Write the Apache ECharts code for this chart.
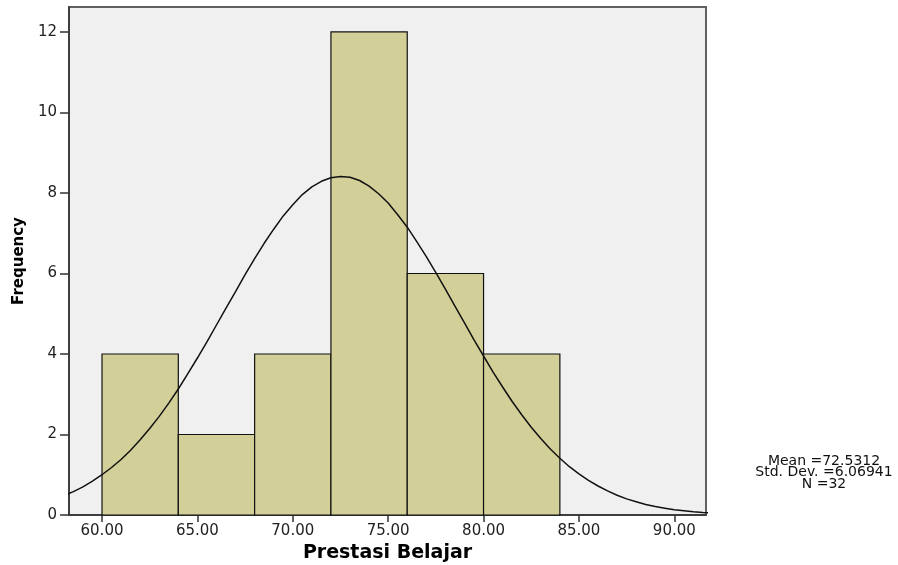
<!DOCTYPE html>
<html>
<head>
<meta charset="utf-8">
<script src="https://cdn.jsdelivr.net/npm/echarts@6/dist/echarts.min.js"></script>
<style>html,body{margin:0;padding:0;background:#fff;}#c{width:898px;height:565px;}</style>
</head>
<body>
<div id="c"></div>
<script>
// Histogram bins (lower edge, width 4) and frequencies
const binStarts = [60, 64, 68, 72, 76, 80];
const binWidth = 4;
const frequencies = [4, 2, 4, 12, 6, 4];
// Normal curve
const curveX = [58,58.5,59,59.5,60,60.5,61,61.5,62,62.5,63,63.5,64,64.5,65,65.5,66,66.5,67,67.5,68,68.5,69,69.5,70,70.5,71,71.5,72,72.5,73,73.5,74,74.5,75,75.5,76,76.5,77,77.5,78,78.5,79,79.5,80,80.5,81,81.5,82,82.5,83,83.5,84,84.5,85,85.5,86,86.5,87,87.5,88,88.5,89,89.5,90,90.5,91,91.5,92];
const curveY = [0.48,0.58,0.70,0.84,1.00,1.18,1.38,1.61,1.87,2.15,2.45,2.78,3.13,3.51,3.90,4.30,4.72,5.14,5.55,5.97,6.37,6.75,7.10,7.43,7.71,7.96,8.15,8.29,8.38,8.41,8.39,8.31,8.17,7.98,7.75,7.46,7.15,6.79,6.42,6.02,5.61,5.19,4.77,4.35,3.95,3.55,3.18,2.82,2.49,2.18,1.90,1.64,1.41,1.20,1.02,0.86,0.72,0.60,0.49,0.40,0.33,0.26,0.21,0.17,0.13,0.105,0.08,0.064,0.05];
// Tick labels
const xTickValues = [60, 65, 70, 75, 80, 85, 90];
const yTickValues = [0, 2, 4, 6, 8, 10, 12];
const statsLines = ['Mean =72.5312', 'Std. Dev. =6.06941', 'N =32'];

const font = 'DejaVu Sans';
const chart = echarts.init(document.getElementById('c'), null, {renderer: 'canvas'});
chart.setOption({
  animation: false,
  backgroundColor: '#ffffff',
  grid: {
    left: 69, top: 7, width: 637, height: 508,
    outerBoundsMode: 'none', containLabel: false,
    show: true, backgroundColor: '#f0f0f0', borderColor: '#606060', borderWidth: 2
  },
  xAxis: {
    type: 'value', min: 58.27, max: 91.66,
    name: 'Prestasi Belajar', nameLocation: 'middle', nameGap: 27,
    nameTextStyle: {fontFamily: font, fontWeight: 'bold', fontSize: 19, color: '#000'},
    axisLine: {show: true, onZero: false, lineStyle: {color: '#333', width: 1.5}},
    axisTick: {show: true, length: 7, customValues: xTickValues, lineStyle: {color: '#333', width: 1.5}},
    axisLabel: {customValues: xTickValues, margin: 9, fontFamily: font, fontSize: 15, color: '#222',
      formatter: v => v.toFixed(2)},
    splitLine: {show: false}
  },
  yAxis: {
    type: 'value', min: 0, max: 12.62,
    name: 'Frequency', nameLocation: 'middle', nameRotate: 90, nameGap: 42,
    nameTextStyle: {fontFamily: font, fontWeight: 'bold', fontSize: 15, color: '#000'},
    axisLine: {show: true, lineStyle: {color: '#333', width: 1.5}},
    axisTick: {show: true, length: 9, customValues: yTickValues, lineStyle: {color: '#333', width: 1.5}},
    axisLabel: {customValues: yTickValues, margin: 12, fontFamily: font, fontSize: 15, color: '#222'},
    splitLine: {show: false}
  },
  series: [
    {
      type: 'custom',
      data: binStarts.map((s, i) => [s, s + binWidth, frequencies[i]]),
      encode: {x: [0, 1], y: 2},
      renderItem: function (params, api) {
        const p0 = api.coord([api.value(0), 0]);
        const p1 = api.coord([api.value(1), api.value(2)]);
        return {
          type: 'rect',
          shape: {x: p0[0], y: p1[1], width: p1[0] - p0[0], height: p0[1] - p1[1]},
          style: {fill: '#d3cf98', stroke: '#111', lineWidth: 1.2}
        };
      },
      z: 2
    },
    {
      type: 'line',
      data: curveX.map((x, i) => [x, curveY[i]]),
      smooth: false, showSymbol: false, clip: true,
      lineStyle: {color: '#111', width: 1.5},
      z: 3
    }
  ],
  graphic: [{
    type: 'text', x: 824, y: 455.5,
    style: {
      text: statsLines.join('\n'), fontFamily: font, fontSize: 14, lineHeight: 11.5,
      fill: '#111', align: 'center', verticalAlign: 'top'
    }
  }]
});
</script>
</body>
</html>
